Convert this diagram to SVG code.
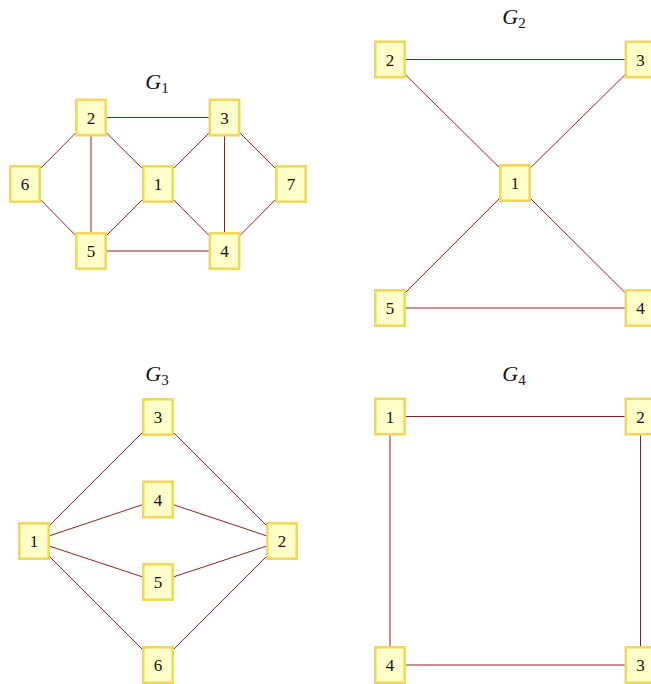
<svg xmlns="http://www.w3.org/2000/svg" width="651" height="684" viewBox="0 0 651 684">
<style>
.e{stroke:#8E2222;stroke-width:1;fill:none}
.n rect{fill:#FFFFCA;stroke:#F1D75A;stroke-width:2.6}
.n text{font-family:"Liberation Serif",serif;font-size:17px;fill:#111;text-anchor:middle}
.t{font-family:"Liberation Serif",serif;font-size:22px;fill:#111;text-anchor:middle}
.t tspan.s{font-style:normal;font-size:15px}
</style>
<rect width="651" height="684" fill="#fff"/>
<g id="titles">
<text class="t" x="157" y="89"><tspan font-style="italic">G</tspan><tspan class="s" dy="4">1</tspan></text>
<text class="t" x="514" y="24"><tspan font-style="italic">G</tspan><tspan class="s" dy="4">2</tspan></text>
<text class="t" x="157" y="381"><tspan font-style="italic">G</tspan><tspan class="s" dy="4">3</tspan></text>
<text class="t" x="514" y="381"><tspan font-style="italic">G</tspan><tspan class="s" dy="4">4</tspan></text>
</g>
<g id="connectors">
<!-- G1 -->
<line class="e" x1="91" y1="117.5" x2="224.5" y2="117.5"/>
<line class="e" x1="91" y1="117.5" x2="25" y2="184"/>
<line class="e" x1="91" y1="117.5" x2="91" y2="251"/>
<line class="e" x1="91" y1="117.5" x2="158" y2="184"/>
<line class="e" x1="224.5" y1="117.5" x2="158" y2="184"/>
<line class="e" x1="224.5" y1="117.5" x2="224.5" y2="251"/>
<line class="e" x1="224.5" y1="117.5" x2="291" y2="184"/>
<line class="e" x1="25" y1="184" x2="91" y2="251"/>
<line class="e" x1="158" y1="184" x2="91" y2="251"/>
<line class="e" x1="158" y1="184" x2="224.5" y2="251"/>
<line class="e" x1="291" y1="184" x2="224.5" y2="251"/>
<line class="e" x1="91" y1="251" x2="224.5" y2="251"/>
<!-- G2 -->
<line class="e" x1="390" y1="59.5" x2="640.5" y2="59.5"/>
<line class="e" x1="390" y1="59.5" x2="515" y2="183"/>
<line class="e" x1="640.5" y1="59.5" x2="515" y2="183"/>
<line class="e" x1="515" y1="183" x2="390" y2="308"/>
<line class="e" x1="515" y1="183" x2="640.5" y2="308"/>
<line class="e" x1="390" y1="308" x2="640.5" y2="308"/>
<!-- G3 -->
<line class="e" x1="34" y1="541" x2="158" y2="417"/>
<line class="e" x1="34" y1="541" x2="158" y2="499.5"/>
<line class="e" x1="34" y1="541" x2="158" y2="582"/>
<line class="e" x1="34" y1="541" x2="158" y2="665"/>
<line class="e" x1="158" y1="417" x2="282" y2="541"/>
<line class="e" x1="158" y1="499.5" x2="282" y2="541"/>
<line class="e" x1="158" y1="582" x2="282" y2="541"/>
<line class="e" x1="158" y1="665" x2="282" y2="541"/>
<!-- G4 -->
<line class="e" x1="390" y1="416.5" x2="640.5" y2="416.5"/>
<line class="e" x1="640.5" y1="416.5" x2="640.5" y2="665"/>
<line class="e" x1="640.5" y1="665" x2="390" y2="665"/>
<line class="e" x1="390" y1="665" x2="390" y2="416.5"/>
</g>
<!-- G1 nodes -->
<g id="g1-n1" class="n" transform="translate(158,184)"><rect x="-14.7" y="-17.7" width="29.4" height="35.4"/><text y="6">1</text></g>
<g id="g1-n2" class="n" transform="translate(91,117.5)"><rect x="-14.7" y="-17.7" width="29.4" height="35.4"/><text y="6">2</text></g>
<g id="g1-n3" class="n" transform="translate(224.5,117.5)"><rect x="-14.7" y="-17.7" width="29.4" height="35.4"/><text y="6">3</text></g>
<g id="g1-n4" class="n" transform="translate(224.5,251)"><rect x="-14.7" y="-17.7" width="29.4" height="35.4"/><text y="6">4</text></g>
<g id="g1-n5" class="n" transform="translate(91,251)"><rect x="-14.7" y="-17.7" width="29.4" height="35.4"/><text y="6">5</text></g>
<g id="g1-n6" class="n" transform="translate(25,184)"><rect x="-14.7" y="-17.7" width="29.4" height="35.4"/><text y="6">6</text></g>
<g id="g1-n7" class="n" transform="translate(291,184)"><rect x="-14.7" y="-17.7" width="29.4" height="35.4"/><text y="6">7</text></g>
<!-- G2 nodes -->
<g id="g2-n1" class="n" transform="translate(515,183)"><rect x="-14.7" y="-17.7" width="29.4" height="35.4"/><text y="6">1</text></g>
<g id="g2-n2" class="n" transform="translate(390,59.5)"><rect x="-14.7" y="-17.7" width="29.4" height="35.4"/><text y="6">2</text></g>
<g id="g2-n3" class="n" transform="translate(640.5,59.5)"><rect x="-14.7" y="-17.7" width="29.4" height="35.4"/><text y="6">3</text></g>
<g id="g2-n4" class="n" transform="translate(640.5,308)"><rect x="-14.7" y="-17.7" width="29.4" height="35.4"/><text y="6">4</text></g>
<g id="g2-n5" class="n" transform="translate(390,308)"><rect x="-14.7" y="-17.7" width="29.4" height="35.4"/><text y="6">5</text></g>
<!-- G3 nodes -->
<g id="g3-n1" class="n" transform="translate(34,541)"><rect x="-14.7" y="-17.7" width="29.4" height="35.4"/><text y="6">1</text></g>
<g id="g3-n2" class="n" transform="translate(282,541)"><rect x="-14.7" y="-17.7" width="29.4" height="35.4"/><text y="6">2</text></g>
<g id="g3-n3" class="n" transform="translate(158,417)"><rect x="-14.7" y="-17.7" width="29.4" height="35.4"/><text y="6">3</text></g>
<g id="g3-n4" class="n" transform="translate(158,499.5)"><rect x="-14.7" y="-17.7" width="29.4" height="35.4"/><text y="6">4</text></g>
<g id="g3-n5" class="n" transform="translate(158,582)"><rect x="-14.7" y="-17.7" width="29.4" height="35.4"/><text y="6">5</text></g>
<g id="g3-n6" class="n" transform="translate(158,665)"><rect x="-14.7" y="-17.7" width="29.4" height="35.4"/><text y="6">6</text></g>
<!-- G4 nodes -->
<g id="g4-n1" class="n" transform="translate(390,416.5)"><rect x="-14.7" y="-17.7" width="29.4" height="35.4"/><text y="6">1</text></g>
<g id="g4-n2" class="n" transform="translate(640.5,416.5)"><rect x="-14.7" y="-17.7" width="29.4" height="35.4"/><text y="6">2</text></g>
<g id="g4-n3" class="n" transform="translate(640.5,665)"><rect x="-14.7" y="-17.7" width="29.4" height="35.4"/><text y="6">3</text></g>
<g id="g4-n4" class="n" transform="translate(390,665)"><rect x="-14.7" y="-17.7" width="29.4" height="35.4"/><text y="6">4</text></g>
</svg>
